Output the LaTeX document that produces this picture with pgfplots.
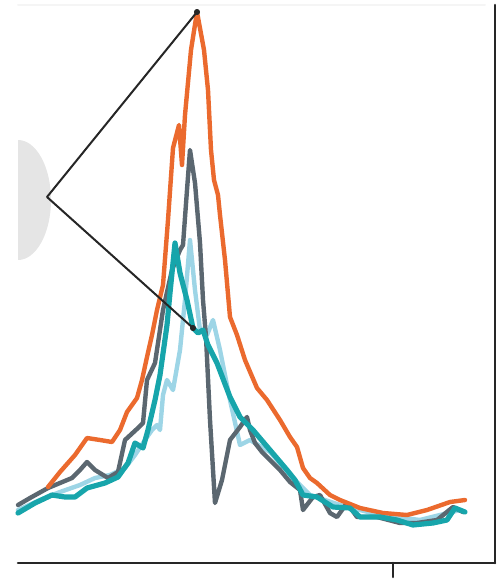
\documentclass[border=0pt]{standalone}
\usepackage{pgfplots}
\pgfplotsset{compat=1.18}
\definecolor{corange}{HTML}{EB6A2E}
\definecolor{cgray}{HTML}{5B6770}
\definecolor{cteal}{HTML}{17A5AB}
\definecolor{clight}{HTML}{9DD5E6}
\begin{document}
\begin{tikzpicture}
\begin{axis}[
  scale only axis, width=251.5pt, height=289.5pt,
  xmin=0, xmax=503, ymin=0, ymax=579, y dir=reverse,
  hide axis, clip=true,
  line join=round, line cap=round,
]
\addplot[draw=none, forget plot] coordinates {(0,0)(503,579)};
% faint background frame
\addplot[gray!8, line width=1pt] coordinates {(18,5)(485,5)};
% gray half disc
\begin{scope}
\clip (axis cs:18,0) rectangle (axis cs:100,579);
\fill[black!10] (axis cs:18,200) ellipse [x radius=33, y radius=60];
\end{scope}
% light blue
\addplot[clight, line width=2.2pt] coordinates {(18,510)(40,500)(60,492)(80,485)(95,478)(110,475)(125,468)(135,455)(145,440)(152,430)(157,425)(160,430)(163,395)(167,380)(173,390)(180,350)(185,300)(190,240)(195,290)(200,330)(207,335)(213,320)(220,350)(230,400)(240,445)(250,440)(270,452)(290,475)(310,495)(340,505)(380,515)(420,520)(460,510)};
% dark gray
\addplot[cgray, line width=2.2pt] coordinates {(18,505)(30,498)(48,488)(60,483)(72,478)(80,470)(87,462)(95,470)(108,478)(118,472)(125,440)(138,428)(143,423)(147,380)(155,363)(163,310)(172,270)(180,250)(183,245)(187,190)(190,150)(195,183)(200,243)(203,300)(206,337)(210,420)(215,503)(222,480)(230,440)(240,427)(247,417)(250,430)(255,443)(262,452)(270,460)(280,470)(290,482)(300,490)(303,510)(313,497)(320,495)(330,513)(337,517)(347,503)(357,517)(377,517)(400,523)(417,523)(437,520)(453,507)(463,512)};
% orange
\addplot[corange, line width=2.2pt] coordinates {(48,487)(60,472)(75,455)(87,438)(100,440)(112,442)(120,430)(127,412)(132,405)(137,398)(142,380)(147,357)(152,335)(157,310)(163,285)(168,220)(173,148)(179,125)(182,165)(185,115)(191,50)(197,12)(204,50)(208,90)(211,150)(214,180)(218,195)(220,215)(225,260)(230,317)(237,335)(245,360)(257,388)(267,400)(280,420)(290,437)(297,447)(303,468)(310,478)(317,483)(330,495)(340,500)(360,508)(383,513)(407,515)(427,510)(450,502)(465,500)};
% teal
\addplot[cteal, line width=2.6pt] coordinates {(18,513)(35,503)(52,495)(65,497)(75,497)(87,488)(105,483)(118,477)(128,463)(135,443)(143,448)(148,430)(155,400)(160,375)(167,325)(170,293)(175,243)(180,273)(187,300)(193,328)(198,333)(203,330)(208,345)(217,363)(230,397)(240,417)(253,430)(270,450)(287,470)(295,480)(303,495)(317,497)(333,507)(350,508)(360,517)(380,517)(397,520)(413,525)(433,523)(447,520)(455,508)(465,512)};
% pointer lines
\addplot[black!85, line width=1pt] coordinates {(197,12)(47,197)(193,328)};
\addplot[only marks, mark=*, mark size=1.3pt, black!85] coordinates {(197,12)(193,328)};
% axis frame
\addplot[black!85, line width=1.3pt] coordinates {(18,563)(495,563)};
\addplot[black!85, line width=1.3pt] coordinates {(495,5)(495,563)};
\addplot[black!85, line width=1.3pt] coordinates {(393,563)(393,577)};
\end{axis}
\end{tikzpicture}
\end{document}
